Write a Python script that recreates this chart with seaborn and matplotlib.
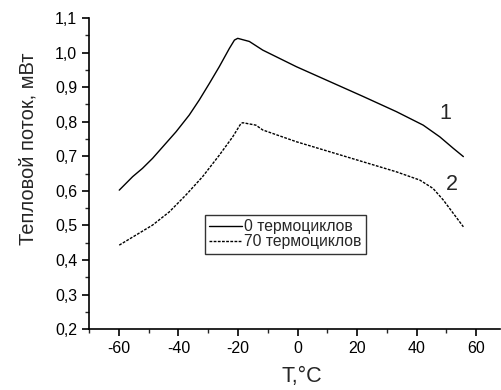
import matplotlib
matplotlib.use("Agg")
import matplotlib.pyplot as plt
import seaborn as sns
import pandas as pd
from matplotlib.ticker import MultipleLocator, FuncFormatter

# Data
t1 = [-59.9, -55.4, -52.1, -48.7, -44.8, -40.8, -36.4, -33.0, -29.6, -26.3, -22.9, -21.2, -20.1,
      -16.2, -11.7, -0.4, 10.8, 22.0, 33.2, 42.2, 47.8, 52.3, 55.7]
q1 = [0.602, 0.641, 0.665, 0.694, 0.732, 0.771, 0.819, 0.863, 0.911, 0.959, 1.012, 1.036, 1.041,
      1.032, 1.007, 0.959, 0.916, 0.873, 0.829, 0.790, 0.756, 0.723, 0.699]
t2 = [-59.9, -54.3, -48.7, -43.1, -37.5, -31.9, -26.3, -21.8, -19.0, -18.4, -14.0,
      -11.7, -0.4, 10.8, 22.0, 33.2, 41.1, 45.5, 48.9, 52.3, 55.7]
q2 = [0.443, 0.472, 0.501, 0.539, 0.588, 0.641, 0.703, 0.756, 0.795, 0.797, 0.790,
      0.776, 0.742, 0.713, 0.684, 0.655, 0.631, 0.607, 0.574, 0.535, 0.496]
labels = ["0 термоциклов", "70 термоциклов"]

df = pd.concat([
    pd.DataFrame({"T": t1, "Q": q1, "s": labels[0]}),
    pd.DataFrame({"T": t2, "Q": q2, "s": labels[1]}),
])

sns.set_style("ticks")
plt.rcParams["font.family"] = ["Liberation Sans", "DejaVu Sans"]
plt.rcParams["axes.unicode_minus"] = False

fig = plt.figure(figsize=(5.01, 3.90), dpi=100)
ax = fig.add_axes([0.178, 0.156, 0.82, 0.798])
sns.lineplot(data=df, x="T", y="Q", hue="s", style="s",
             palette=["black", "black"], dashes=[(None, None), (2, 1)],
             linewidth=1.0, ax=ax, legend=True, sort=False)

ax.set_xlim(-70, 68)
ax.set_ylim(0.2, 1.1)
ax.xaxis.set_major_locator(MultipleLocator(20))
ax.xaxis.set_minor_locator(MultipleLocator(10))
ax.yaxis.set_major_locator(MultipleLocator(0.1))
ax.yaxis.set_minor_locator(MultipleLocator(0.05))
ax.yaxis.set_major_formatter(FuncFormatter(lambda v, p: f"{v:.1f}".replace(".", ",")))
ax.tick_params(which="major", direction="out", length=5, width=1.2, labelsize=11.5, colors="black")
ax.tick_params(which="minor", direction="out", length=3, width=1.0)
for s in ["top", "right"]:
    ax.spines[s].set_visible(False)
for s in ["left", "bottom"]:
    ax.spines[s].set_linewidth(1.2)
    ax.spines[s].set_color("black")

ax.set_xlabel("T,°C", fontsize=15.5, labelpad=7)
ax.xaxis.label.set_x(0.518)
ax.set_ylabel("Тепловой поток, мВт", fontsize=14.5)
ax.yaxis.set_label_coords(-0.127, 0.58)

ax.text(49.5, 0.825, "1", fontsize=15.5, ha="center", va="center")
ax.text(51.8, 0.617, "2", fontsize=15.5, ha="center", va="center")

leg = ax.legend(loc="upper left", bbox_to_anchor=(0.282, 0.367), frameon=True,
                fontsize=11.3, handlelength=2.1, borderpad=0.28, labelspacing=0.0,
                handletextpad=0.13, borderaxespad=0, fancybox=False)
leg.get_frame().set_edgecolor("black")
leg.get_frame().set_linewidth(1.0)

fig.savefig("out.png", dpi=100)
